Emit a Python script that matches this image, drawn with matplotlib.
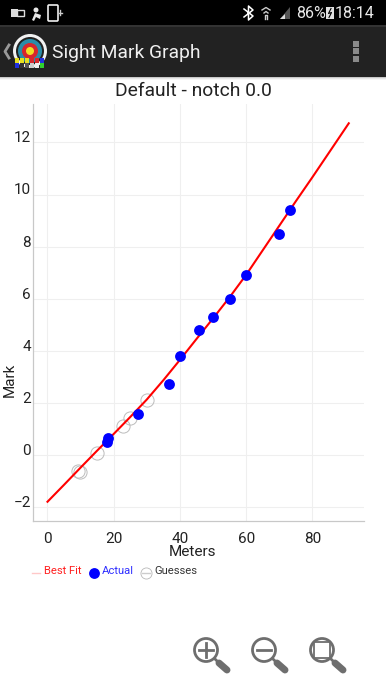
"""Sight mark graph screenshot: best fit line, actual marks and guesses."""

import matplotlib
matplotlib.use("Agg")
import matplotlib.pyplot as plt
from matplotlib.patches import Circle, FancyBboxPatch, Rectangle
from matplotlib.transforms import ScaledTranslation

fit_x = [0, 5, 10, 15, 20, 25, 30, 35, 40, 45, 50, 55, 60, 65, 70, 75, 80, 85, 91]
fit_y = [-1.78, -1.13, -0.47, 0.18, 0.82, 1.47, 2.14, 2.88, 3.66, 4.46, 5.25, 6.06,
         6.92, 7.86, 8.8, 9.74, 10.66, 11.6, 12.73]
actual_x = [18.0, 18.2, 27.4, 36.6, 40, 45.8, 50, 55, 60, 70, 73.2]
actual_y = [0.52, 0.65, 1.57, 2.75, 3.8, 4.8, 5.3, 6.0, 6.9, 8.5, 9.4]
guess_x = [9.3, 9.8, 14.9, 22.7, 25, 30]
guess_y = [-0.6, -0.65, 0.08, 1.12, 1.42, 2.12]
x_ticks = [0, 20, 40, 60, 80]
y_ticks = [-2, 0, 2, 4, 6, 8, 10, 12]

plt.rcParams["font.family"] = ["Roboto", "DejaVu Sans"]
W, H = 386, 686
fig = plt.figure(figsize=(W / 100, H / 100), dpi=100, facecolor="white")

# plot area
ax = fig.add_axes([32.5 / W, 1 - 521.3 / H, 331.5 / W, 417.3 / H])
ax.set_xlim(-4.53, 95.6)
ax.set_ylim(-2.53, 13.47)
ax.set_xticks(x_ticks)
ax.set_yticks(y_ticks)
ax.grid(color="#efefef", lw=0.8)
ax.set_axisbelow(True)
for side in ["top", "right"]:
    ax.spines[side].set_visible(False)
for side in ["left", "bottom"]:
    ax.spines[side].set_color("#c8c8c8")
    ax.spines[side].set_linewidth(0.9)
ax.tick_params(length=0, labelsize=11, labelcolor="#222222", pad=1)
ax.tick_params(axis="x", pad=8)
shift = ScaledTranslation(0, 4 / 72, fig.dpi_scale_trans)
for lab in ax.get_yticklabels():
    lab.set_transform(lab.get_transform() + shift)
ax.plot(guess_x, guess_y, "o", ms=9.5, mfc="none", mec="#bcbcbc", mew=0.7, zorder=3)
ax.plot(fit_x, fit_y, color="red", lw=1.5, zorder=4)
ax.plot(actual_x, actual_y, "o", ms=7.8, color="blue", mew=0, zorder=5)

# everything else sits on a pixel-coordinate overlay
ov = fig.add_axes([0, 0, 1, 1], facecolor="none")
ov.set_xlim(0, W)
ov.set_ylim(H, 0)
ov.axis("off")

ov.add_patch(Rectangle((0, 0), W, 25, color="black", lw=0))
ov.add_patch(Rectangle((0, 25), W, 2, color="#333333", lw=0))
ov.add_patch(Rectangle((0, 27), W, 50, color="#222222", lw=0))
for i, c in enumerate(["#c8c8c8", "#e6e6e6", "#f5f5f5"]):
    ov.add_patch(Rectangle((0, 77 + i), W, 1, color=c, lw=0))

# status bar
ov.text(296, 14, "86%", color="#e8e8e8", fontsize=11.5, ha="left", va="center")
ov.text(374, 14, "18:14", color="#e8e8e8", fontsize=11.5, ha="right", va="center")
ov.add_patch(Rectangle((326, 7), 8, 12, color="#e0e0e0", lw=0))
ov.plot([331, 328.5, 331.5, 329], [8.5, 13.5, 12.5, 17.5], color="black", lw=0.8)
ov.plot([244, 253, 248.5, 248.5, 253, 244], [9, 16, 20, 6, 10, 17], color="white", lw=1.1)
ov.fill([280, 290, 290], [19, 19, 7], color="#555555", lw=0)
ov.fill([280, 285, 285], [19, 19, 14], color="#dddddd", lw=0)
ov.plot([262, 266, 270], [10, 7.5, 10], color="#cccccc", lw=1)
ov.plot([264, 266, 268], [13, 11.5, 13], color="#cccccc", lw=1)
ov.plot([265, 265, 267, 267], [19, 14.5, 14.5, 19], color="#cccccc", lw=1)
ov.add_patch(Rectangle((11, 9), 7, 8, color="#dddddd", lw=0))
ov.add_patch(Rectangle((17, 10), 7, 6, fc="none", ec="#dddddd", lw=1))
ov.add_patch(Circle((36, 10), 2.5, color="#e8e8e8", lw=0))
ov.fill([32, 35, 41, 40, 36, 34], [20, 13, 15, 19, 17, 21], color="#e8e8e8", lw=0)
ov.add_patch(FancyBboxPatch((49, 6), 8, 14, boxstyle="round,pad=1", fc="black", ec="#eeeeee", lw=1.2))
ov.plot([60, 60], [10, 15], color="#cccccc", lw=1)
ov.plot([59, 62], [12.5, 12.5], color="#cccccc", lw=1)

# action bar
ov.text(52, 53, "Sight Mark Graph", color="#f0f0f0", fontsize=13.9, ha="left", va="center")
ov.plot([9, 5, 9], [45, 51.5, 58], color="#999999", lw=2)
for r, c in [(17, "#f2f2f2"), (14, "#222222"), (12, "#2a8ca8"), (8, "#d8262c"), (4, "#f3e022")]:
    ov.add_patch(Circle((30, 51), r, color=c, lw=0))
tile_colors = ["#e6e020", "#e6e020", "#e6e020", "#d8262c", "#d8262c", "#2030e0",
               "#2030e0", "#333333", "#555555", "#cccccc", "#eeeeee", "#30d030"]
for i, c in enumerate(tile_colors):
    ov.add_patch(Rectangle((14.5 + (i % 6) * 5, 57.5 + (i // 6) * 5.5), 4.6, 5, color=c, lw=0))
for y in [41, 48, 56]:
    ov.add_patch(Rectangle((353, y), 6, 6, color="#8a8a8a", lw=0))

# chart texts
ov.text(193.5, 91, "Default - notch 0.0", color="#222222", fontsize=13.9, ha="center", va="center")
ov.text(193, 552, "Meters", color="#222222", fontsize=11, ha="center", va="center")
ov.text(10, 380, "Mark", color="#222222", fontsize=11, rotation=90, ha="center", va="center")

# legend
ov.plot([32, 40], [572.5, 572.5], color="#ffc8c8", lw=1)
ov.text(44, 570.5, "Best Fit", color="#ff2020", fontsize=8.1, ha="left", va="center")
ov.plot([94], [572.5], "o", ms=7.8, color="blue", mew=0)
ov.text(102, 570.5, "Actual", color="#3030ff", fontsize=8.1, ha="left", va="center")
ov.plot([146], [572.5], "o", ms=8, mfc="none", mec="#b8b8b8", mew=0.6)
ov.plot([142, 150], [572.5, 572.5], color="#cccccc", lw=1)
ov.text(154, 570.5, "Guesses", color="#333333", fontsize=8.1, ha="left", va="center")

# zoom buttons
GREY = "#6e6e6e"
for cx in [206, 264, 322]:
    ov.add_patch(Circle((cx, 650), 11.5, fc="none", ec=GREY, lw=2))
    ov.plot([cx + 9, cx + 13], [659, 663], color=GREY, lw=2, solid_capstyle="round")
    ov.plot([cx + 13, cx + 21], [663, 670], color=GREY, lw=5, solid_capstyle="round")
ov.plot([199, 213], [650, 650], color=GREY, lw=2)
ov.plot([206, 206], [643, 657], color=GREY, lw=2)
ov.plot([257, 271], [650, 650], color=GREY, lw=2)
ov.add_patch(Rectangle((314, 642), 16, 16, fc="none", ec=GREY, lw=1.3))

fig.savefig("out.png", dpi=100)
plt.close(fig)
